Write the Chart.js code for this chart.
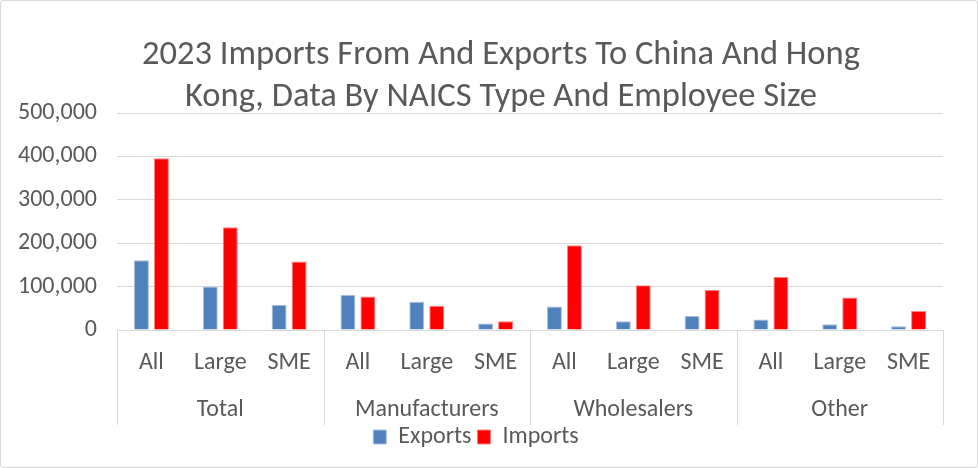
<!DOCTYPE html>
<html>
<head>
<meta charset="utf-8">
<script src="https://cdn.jsdelivr.net/npm/chart.js@4"></script>
<style>
  html, body { margin: 0; padding: 0; background: #fff; }
  #wrap { width: 976px; height: 466px; border: 1px solid #d9d9d9; border-radius: 3px; }
</style>
</head>
<body>
<div id="wrap"><canvas id="barChart" width="976" height="466"></canvas></div>
<script>
// chart data
const subLabels = ['All', 'Large', 'SME', 'All', 'Large', 'SME', 'All', 'Large', 'SME', 'All', 'Large', 'SME'];
const groupLabels = ['Total', 'Manufacturers', 'Wholesalers', 'Other'];
const exportsData = [161000, 100000, 58000, 81000, 65000, 15000, 54000, 20000, 32000, 24000, 13000, 8500];
const importsData = [396000, 237000, 158000, 77000, 56000, 20000, 195000, 103000, 92000, 122000, 75000, 44000];
const yTicks = [0, 100000, 200000, 300000, 400000, 500000];
const titleLines = ['2023 Imports From And Exports To China And Hong', 'Kong, Data By NAICS Type And Employee Size'];

const FONT = "Calibri, Carlito, 'Liberation Sans'";
const TEXT = '#595959';
const GRID = '#d9d9d9';

// vertical separators between the category groups
const groupLines = {
  id: 'groupLines',
  afterDraw(chart) {
    const x = chart.scales.x, x2 = chart.scales.x2, ctx = chart.ctx;
    const per = subLabels.length / groupLabels.length;
    const xs = [chart.chartArea.left];
    for (let g = 1; g < groupLabels.length; g++) {
      const i = g * per;
      xs.push((x.getPixelForValue(i - 1) + x.getPixelForValue(i)) / 2);
    }
    xs.push(chart.chartArea.right);
    ctx.save();
    ctx.strokeStyle = GRID;
    ctx.lineWidth = 1;
    xs.forEach(px => {
      const p = Math.round(px) + 0.5;
      ctx.beginPath();
      ctx.moveTo(p, x.top);
      ctx.lineTo(p, x2.bottom + 6);
      ctx.stroke();
    });
    ctx.restore();
  }
};

// two-line title, sitting a little right of the canvas centre like the original
const chartTitle = {
  id: 'chartTitle',
  afterDraw(chart) {
    const ctx = chart.ctx;
    ctx.save();
    ctx.fillStyle = TEXT;
    ctx.font = '34.5px ' + FONT;
    ctx.textAlign = 'center';
    ctx.textBaseline = 'middle';
    titleLines.forEach((t, i) => ctx.fillText(t, chart.width / 2 + 12, 54 + i * 42));
    ctx.restore();
  }
};

document.addEventListener('DOMContentLoaded', () => {
  const ctx = document.getElementById('barChart').getContext('2d');
  new Chart(ctx, {
    type: 'bar',
    data: {
      labels: subLabels,
      datasets: [
        { label: 'Exports', data: exportsData, backgroundColor: '#4f81bd', borderColor: '#a9c0de', borderWidth: 1 },
        { label: 'Imports', data: importsData, backgroundColor: '#ff0000', borderColor: '#ff8080', borderWidth: 1 },
      ],
    },
    plugins: [groupLines, chartTitle],
    options: {
      responsive: false,
      animation: false,
      layout: { padding: { left: 8, right: 34, top: 112, bottom: 8 } },
      datasets: { bar: { categoryPercentage: 0.58, barPercentage: 0.75 } },
      plugins: {
        title: { display: false },
        legend: {
          position: 'bottom',
          labels: { color: TEXT, font: { family: FONT, size: 24 }, boxWidth: 13, boxHeight: 14, padding: 6 },
        },
        tooltip: { enabled: false },
      },
      scales: {
        y: {
          min: 0,
          max: 500000,
          afterBuildTicks: s => { s.ticks = yTicks.map(v => ({ value: v })); },
          afterFit: s => { s.width = 108; },
          ticks: {
            color: TEXT,
            font: { family: FONT, size: 24 },
            padding: 20,
            callback: v => v.toLocaleString('en-US'),
          },
          grid: { color: GRID, lineWidth: 1, drawTicks: false },
          border: { display: false },
        },
        x: {
          ticks: { color: TEXT, font: { family: FONT, size: 24 }, padding: 11, maxRotation: 0, autoSkip: false },
          grid: { display: false },
          border: { display: true, color: GRID },
          afterFit: s => { s.height = 46; },
        },
        x2: {
          type: 'category',
          labels: groupLabels,
          position: 'bottom',
          ticks: { color: TEXT, font: { family: FONT, size: 24 }, padding: 11.5, maxRotation: 0 },
          grid: { display: false },
          border: { display: false },
          afterFit: s => { s.height = 43; },
        },
      },
    },
  });
});
</script>
</body>
</html>
